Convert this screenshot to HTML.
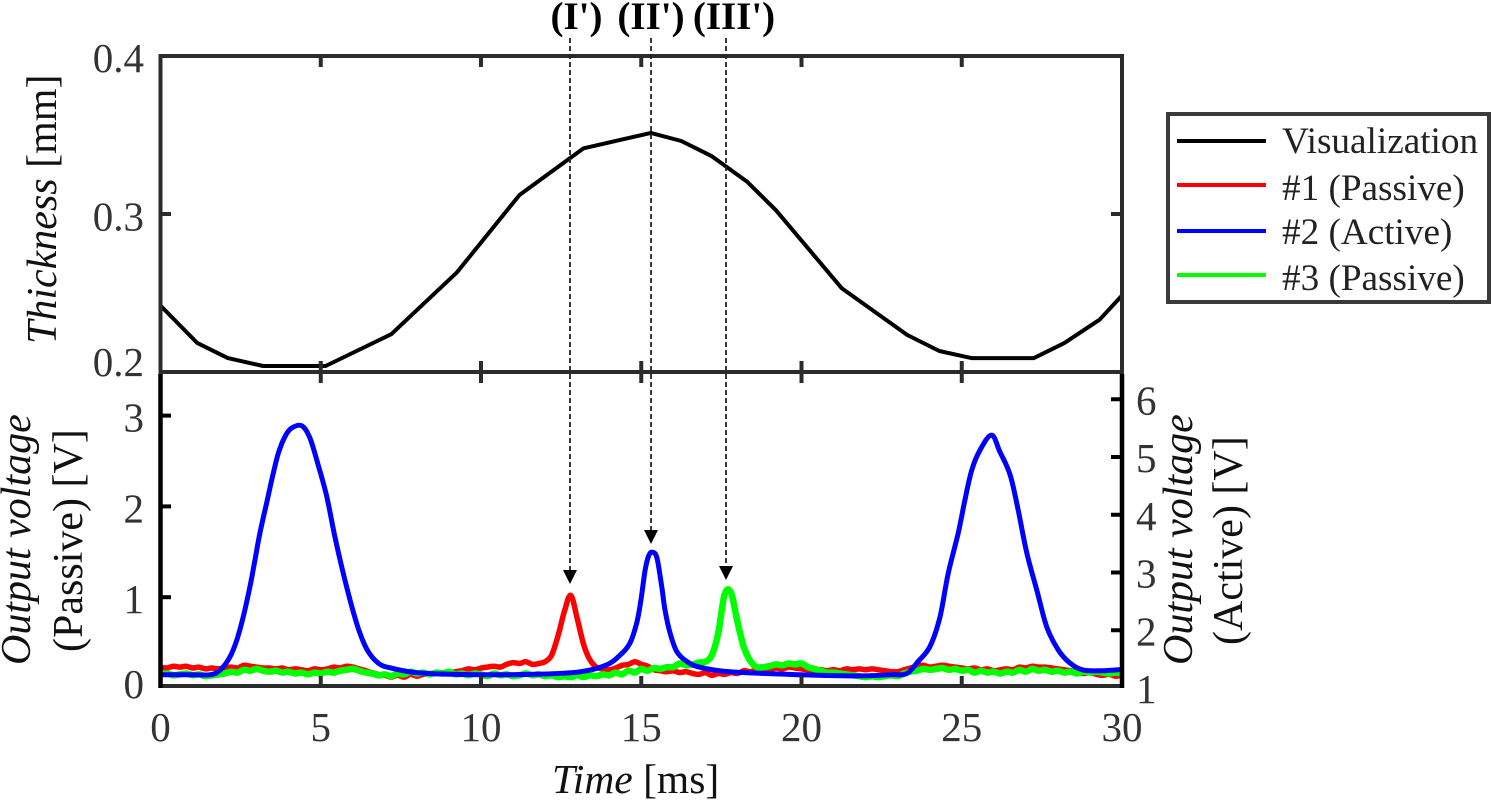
<!DOCTYPE html>
<html lang="en">
<head>
<meta charset="utf-8">
<title>Thickness and output voltage over time</title>
<style>
html,body{margin:0;padding:0;background:#fff;width:1492px;height:802px;overflow:hidden}
svg{display:block}
text{font-family:"Liberation Serif",serif;fill:#111}
.tick{font-size:41px;fill:#333}
.axis{font-size:42px}
.leg{font-size:37.2px;fill:#222}
.ann{font-size:39px;font-weight:bold;fill:#000}
</style>
</head>
<body>
<svg id="chart" xmlns="http://www.w3.org/2000/svg" width="1492" height="802" viewBox="0 0 1492 802">
  <g id="plot-marks"></g>
  <g id="frames">
    <rect x="160.5" y="56" width="961.5" height="316" fill="none" stroke="#2b2b2b" stroke-width="4"/>
    <rect x="160.5" y="372" width="961.5" height="314" fill="none" stroke="#2b2b2b" stroke-width="4"/>
    <line x1="160.5" y1="374" x2="160.5" y2="688" stroke="#000" stroke-width="4.5"/>
    <line x1="1122" y1="374" x2="1122" y2="688" stroke="#000" stroke-width="4.5"/>
  </g>
  <g id="ticks"></g>
  <g id="labels"></g>

  <text class="axis" transform="translate(56,344) rotate(-90)"><tspan font-style="italic">Thickness</tspan> [mm]</text>
  <text class="axis" font-style="italic" transform="translate(30,665) rotate(-90)">Output voltage</text>
  <text class="axis" transform="translate(82,652) rotate(-90)">(Passive) [V]</text>
  <text class="axis" font-style="italic" transform="translate(1192,665) rotate(-90)">Output voltage</text>
  <text class="axis" transform="translate(1242,645) rotate(-90)">(Active) [V]</text>
  <text class="axis" style="font-size:41.5px" x="552" y="793"><tspan font-style="italic">Time</tspan> [ms]</text>

  <g id="annotations">
    <text class="ann" x="576.5" y="29" text-anchor="middle">(I')</text>
    <text class="ann" x="651" y="29" text-anchor="middle">(II')</text>
    <text class="ann" x="734" y="29" text-anchor="middle">(III')</text>
    <line x1="570" y1="38" x2="570" y2="572" stroke="#222" stroke-width="1.8" stroke-dasharray="5 3"/>
    <polygon points="563,570 577,570 570,584" fill="#000"/>
    <line x1="651" y1="38" x2="651" y2="532" stroke="#222" stroke-width="1.8" stroke-dasharray="5 3"/>
    <polygon points="644,530 658,530 651,544" fill="#000"/>
    <line x1="726" y1="38" x2="726" y2="568" stroke="#222" stroke-width="1.8" stroke-dasharray="5 3"/>
    <polygon points="719,566 733,566 726,580" fill="#000"/>
  </g>

  <g id="legend">
    <rect x="1168" y="114" width="321" height="188" fill="#fff" stroke="#3a3a3a" stroke-width="4"/>
    <line x1="1177" x2="1266" y1="141" y2="141" stroke="#000" stroke-width="4"/>
    <text class="leg" x="1282" y="153">Visualization</text>
    <line x1="1177" x2="1266" y1="185" y2="185" stroke="#f00" stroke-width="4"/>
    <text class="leg" x="1282" y="200">#1 (Passive)</text>
    <line x1="1177" x2="1266" y1="231" y2="231" stroke="#00f" stroke-width="4"/>
    <text class="leg" x="1282" y="244">#2 (Active)</text>
    <line x1="1177" x2="1266" y1="275" y2="275" stroke="#0f0" stroke-width="4"/>
    <text class="leg" x="1282" y="290">#3 (Passive)</text>
  </g>
</svg>
<script>
const timeTicks = [0, 5, 10, 15, 20, 25, 30];
const thicknessTicks = [0.4, 0.3, 0.2];
const thicknessTickLabels = ['0.4', '0.3', '0.2'];
const passiveTicks = [0, 1, 2, 3];
const activeTicks = [1, 2, 3, 4, 5, 6];

const visualizationTimes = [0, 1.15, 2.1, 3.2, 5.15, 7.2, 9.25, 11.2, 13.2, 15.3, 16.25, 17.2, 18.3, 19.2, 21.25, 23.3, 24.3, 25.3, 27.25, 28.2, 29.3, 30];
const visualizationThickness = [0.242, 0.2183, 0.2088, 0.2038, 0.2038, 0.2239, 0.2631, 0.312, 0.3416, 0.3513, 0.3462, 0.3366, 0.3205, 0.3024, 0.2531, 0.2234, 0.2133, 0.2088, 0.2088, 0.2183, 0.2331, 0.2484];

const activeTimes = [0, 0.94, 1.56, 1.86, 2.17, 2.38, 2.58, 2.79, 2.95, 3.10, 3.31, 3.52, 3.68, 3.88, 4.09, 4.41, 4.66, 4.92, 5.19, 5.44, 5.70, 5.97, 6.22, 6.48, 6.80, 7.16, 8.10, 9.97, 11.84, 13.09, 13.92, 14.34, 14.65, 14.86, 14.99, 15.12, 15.24, 15.36, 15.49, 15.64, 15.74, 15.90, 16.11, 16.42, 16.83, 17.77, 19.95, 21.83, 22.76, 23.28, 23.64, 24.01, 24.32, 24.58, 24.89, 25.10, 25.31, 25.57, 25.93, 26.19, 26.51, 26.76, 27.03, 27.34, 27.65, 28.01, 28.38, 28.79, 29.41, 30];
const activeVoltage = [1.23, 1.23, 1.23, 1.31, 1.54, 1.83, 2.23, 2.75, 3.22, 3.68, 4.20, 4.72, 5.07, 5.35, 5.50, 5.54, 5.33, 4.86, 4.31, 3.62, 2.99, 2.41, 1.95, 1.63, 1.43, 1.35, 1.26, 1.23, 1.24, 1.28, 1.40, 1.57, 1.78, 2.13, 2.52, 3.04, 3.30, 3.35, 3.25, 2.75, 2.35, 1.95, 1.63, 1.46, 1.36, 1.28, 1.23, 1.21, 1.23, 1.25, 1.46, 1.72, 2.23, 2.99, 3.68, 4.26, 4.77, 5.12, 5.38, 5.09, 4.69, 4.08, 3.34, 2.70, 2.06, 1.66, 1.43, 1.31, 1.30, 1.32];

const passiveSampleStepMs = 0.2;
const sensor1Voltage = [
  .23,.22,.24,.23,.24,.22,.23,.21,.22,.21,
  .22,.23,.22,.25,.24,.23,.22,.22,.21,.22,
  .20,.21,.20,.19,.21,.20,.21,.23,.22,.24,
  .23,.21,.19,.17,.15,.14,.12,.14,.12,.15,
  .13,.15,.16,.16,.17,.17,.18,.19,.21,.20,
  .22,.23,.24,.23,.26,.28,.27,.29,.26,.27,
  .29,.36,.57,.84,1.02,.77,.48,.31,.23,.21,
  .20,.22,.25,.26,.29,.26,.24,.20,.19,.18,
  .19,.17,.18,.16,.15,.17,.14,.16,.15,.17,
  .16,.19,.18,.20,.21,.20,.22,.21,.23,.22,
  .21,.20,.19,.20,.19,.20,.19,.21,.20,.21,
  .20,.21,.20,.19,.18,.18,.20,.22,.24,.25,
  .23,.24,.25,.24,.23,.22,.21,.22,.20,.21,
  .19,.20,.21,.20,.23,.22,.24,.23,.23,.22,
  .21,.20,.19,.17,.16,.17,.15,.14,.15,.13,
  .14
];
const sensor3Voltage = [
  .15,.16,.14,.15,.16,.14,.15,.13,.14,.15,
  .16,.18,.17,.20,.19,.21,.19,.18,.19,.17,
  .18,.16,.17,.15,.17,.16,.18,.17,.19,.20,
  .21,.19,.17,.16,.14,.15,.13,.16,.15,.18,
  .16,.17,.15,.17,.16,.18,.15,.16,.14,.16,
  .15,.13,.16,.14,.15,.13,.14,.16,.14,.15,
  .13,.14,.12,.13,.12,.14,.12,.14,.13,.15,
  .14,.17,.15,.19,.17,.21,.19,.22,.21,.23,
  .23,.27,.25,.26,.28,.29,.36,.60,1.03,1.05,
  .73,.45,.30,.23,.23,.24,.26,.25,.27,.26,
  .27,.23,.21,.19,.17,.17,.16,.15,.14,.13,
  .12,.13,.12,.13,.14,.13,.16,.18,.19,.21,
  .20,.21,.22,.20,.21,.19,.20,.17,.19,.17,
  .18,.16,.18,.17,.20,.18,.21,.19,.20,.18,
  .19,.17,.18,.16,.18,.17,.18,.17,.16,.17,
  .16
];

const SVG_NS = 'http://www.w3.org/2000/svg';
const xScale = t => 160.5 + t * 32.05;
const yThickness = v => 56 + (0.4 - v) * 1580;
const yPassive = v => 688 - v * 90.8;
const yActive = v => 688 - (v - 1) * 57.75;

const marksLayer = document.getElementById('plot-marks');
const ticksLayer = document.getElementById('ticks');
const labelsLayer = document.getElementById('labels');

function linePath(times, values, yScale, color, width, smooth) {
  const el = document.createElementNS(SVG_NS, 'path');
  const pts = times.map((t, i) => [xScale(t), yScale(values[i])]);
  let d = 'M' + pts[0][0].toFixed(1) + ' ' + pts[0][1].toFixed(1);
  for (let i = 1; i < pts.length; i++) {
    if (smooth) {
      const p0 = pts[Math.max(i - 2, 0)], p1 = pts[i - 1], p2 = pts[i], p3 = pts[Math.min(i + 1, pts.length - 1)];
      const c1x = p1[0] + (p2[0] - p0[0]) / 6, c1y = p1[1] + (p2[1] - p0[1]) / 6;
      const c2x = p2[0] - (p3[0] - p1[0]) / 6, c2y = p2[1] - (p3[1] - p1[1]) / 6;
      d += 'C' + c1x.toFixed(1) + ' ' + c1y.toFixed(1) + ' ' + c2x.toFixed(1) + ' ' + c2y.toFixed(1) + ' ' + p2[0].toFixed(1) + ' ' + p2[1].toFixed(1);
    } else {
      d += 'L' + pts[i][0].toFixed(1) + ' ' + pts[i][1].toFixed(1);
    }
  }
  el.setAttribute('d', d);
  el.setAttribute('fill', 'none');
  el.setAttribute('stroke', color);
  el.setAttribute('stroke-width', width);
  el.setAttribute('stroke-linejoin', 'round');
  marksLayer.appendChild(el);
  return el;
}
function tickLine(x1, y1, x2, y2, color) {
  const el = document.createElementNS(SVG_NS, 'line');
  el.setAttribute('x1', x1);
  el.setAttribute('y1', y1);
  el.setAttribute('x2', x2);
  el.setAttribute('y2', y2);
  el.setAttribute('stroke', color);
  el.setAttribute('stroke-width', 4);
  ticksLayer.appendChild(el);
  return el;
}
function tickText(x, y, anchor, str) {
  const el = document.createElementNS(SVG_NS, 'text');
  el.setAttribute('class', 'tick');
  el.setAttribute('x', x);
  el.setAttribute('y', y);
  el.setAttribute('text-anchor', anchor);
  el.textContent = str;
  labelsLayer.appendChild(el);
  return el;
}

const sampleTimes = sensor1Voltage.map((_, i) => i * passiveSampleStepMs);

const sensor1Line = linePath(sampleTimes, sensor1Voltage, yPassive, '#ff0000', 5.5, true);



const sensor3Line = linePath(sampleTimes, sensor3Voltage, yPassive, '#00ff00', 6.5, true);



const sensor2Line = linePath(activeTimes, activeVoltage, yActive, '#0000ff', 5, true);



const visualizationLine = linePath(visualizationTimes, visualizationThickness, yThickness, '#000000', 4, false);



timeTicks.forEach(t => {
  const x = xScale(t);
  if (t > 0 && t < 30) {
    const topTick = tickLine(x, 56, x, 67, '#2b2b2b');
    
    
    const midTick = tickLine(x, 361, x, 383, '#2b2b2b');
    
    
    const botTick = tickLine(x, 676, x, 686, '#2b2b2b');
    
    
  }
  const label = tickText(x, 741, 'middle', String(t));
  
  
});

thicknessTicks.forEach((v, i) => {
  const y = yThickness(v);
  if (i === 1) {
    const leftTick = tickLine(160, y, 171, y, '#2b2b2b');
    
    
    const rightTick = tickLine(1111, y, 1122, y, '#2b2b2b');
    
    
  }
  const offset = i === 2 ? 4 : (i === 1 ? 16.5 : 16);
  const label = tickText(144, y + offset, 'end', thicknessTickLabels[i]);
  
  
});

passiveTicks.forEach(v => {
  const y = yPassive(v);
  if (v > 0) {
    const tick = tickLine(160, y, 171, y, '#000');
    
    
  }
  const label = tickText(144, v === 0 ? y + 10 : y + 16, 'end', String(v));
  
  
});

activeTicks.forEach(v => {
  const y = yActive(v);
  if (v > 1) {
    const tick = tickLine(1111, y, 1122, y, '#000');
    
    
  }
  const label = tickText(1136, y + 15, 'start', String(v));
  
  
});
</script>
</body>
</html>
